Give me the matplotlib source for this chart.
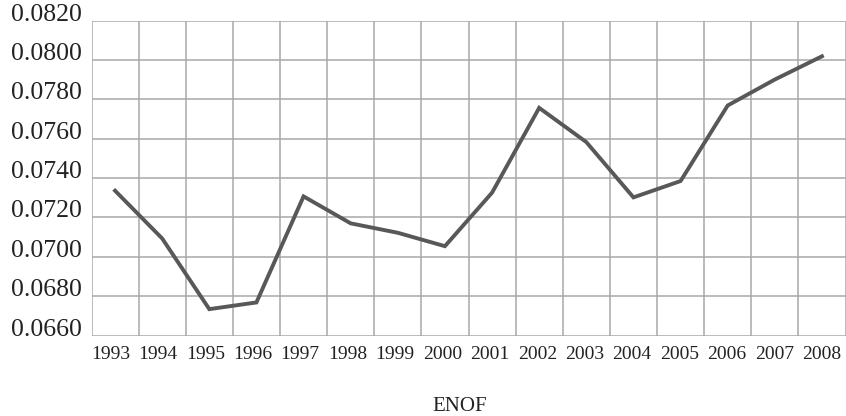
import numpy as np
from matplotlib import pyplot as plt

# years on the x axis and the ENOF value for each
years = ["1993", "1994", "1995", "1996", "1997", "1998", "1999", "2000",
         "2001", "2002", "2003", "2004", "2005", "2006", "2007", "2008"]
enof = [0.07336, 0.07093, 0.06734, 0.06768, 0.07307, 0.07170, 0.07122,
        0.07054, 0.07326, 0.07757, 0.07583, 0.07302, 0.07385, 0.07769,
        0.07901, 0.08019]

# y axis ticks
y_ticks = [0.0660, 0.0680, 0.0700, 0.0720, 0.0740, 0.0760, 0.0780,
           0.0800, 0.0820]

plt.rcParams["font.family"] = ["Liberation Serif", "DejaVu Serif"]

fig = plt.figure(figsize=(8.46, 4.16), dpi=100)
ax = fig.add_axes([91.5 / 846, 1 - 335.5 / 416, 1 - 91.5 / 846 - 0.5 / 846,
                   (335.5 - 20.7) / 416])

x = np.arange(len(years))
grid_col = "#a8a8a8"
text_col = "#222222"

# grid lines between the year bands
for b in np.arange(len(years) + 1) - 0.5:
    ax.axvline(b, color=grid_col, linewidth=1.1, zorder=1)
for t in y_ticks:
    ax.axhline(t, color=grid_col, linewidth=1.1, zorder=1)

ax.plot(x, enof, color="#585858", linewidth=2.8, solid_joinstyle="miter",
        zorder=3)

ax.set_xlim(-0.5, len(years) - 0.5)
ax.set_ylim(y_ticks[0], y_ticks[-1])

# year labels are spread a little wider than the bands
ax.set_xticks(np.linspace(-0.1, len(years) - 1.0, len(years)))
ax.set_xticklabels(years, fontsize=14)
ax.set_yticks(y_ticks)
ax.set_yticklabels([f"{t:.4f}" for t in y_ticks], fontsize=18.5)
for lab in ax.get_yticklabels():
    lab.set_va("baseline")
ax.tick_params(axis="both", length=0, colors=text_col)
ax.tick_params(axis="x", pad=7.5)
ax.tick_params(axis="y", pad=7)

for s in ax.spines.values():
    s.set_visible(False)

fig.text(460 / 846, 1 - 411 / 416, "ENOF", ha="center",
         va="baseline", fontsize=15, color=text_col)

fig.savefig("out.png", dpi=100)
